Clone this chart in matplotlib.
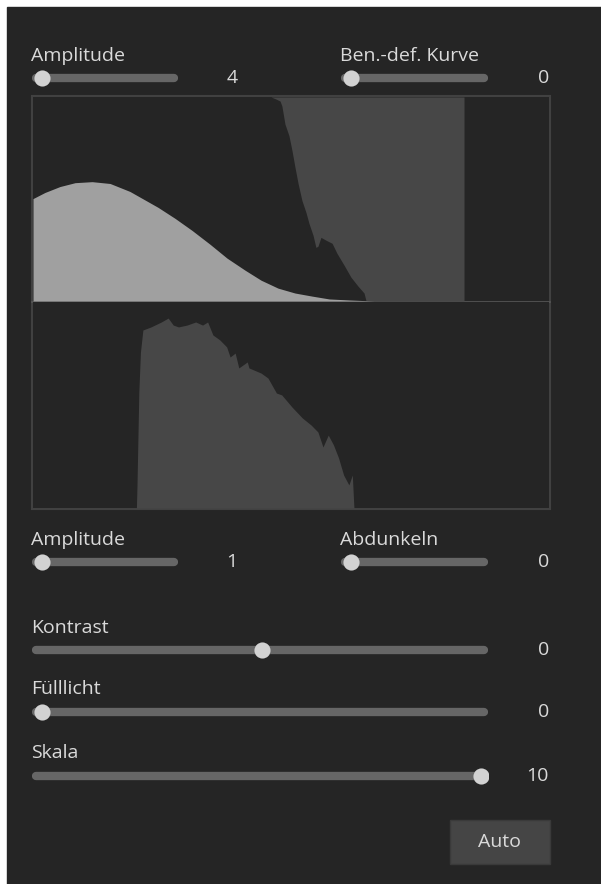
import matplotlib
matplotlib.use('Agg')
import matplotlib.pyplot as plt
from matplotlib.patches import Rectangle
import numpy as np

# Histogramm oben: helle Kurve (Tonwert 0..255, Höhe in %)
bell_levels = [0, 5.9, 13.3, 20.8, 29.2, 38.1, 47.9, 61.8, 70.2, 78.6, 87.5, 95.9,
               104.8, 112.7, 121.1, 129.5, 137.9, 146.4, 156.3, 168.6]
bell_values = [50.2, 53.2, 56.1, 58.0, 58.5, 57.6, 53.7, 45.9, 40.5, 34.6, 27.8, 21.0,
               15.1, 10.2, 6.3, 3.9, 2.4, 1.0, 0.5, 0.0]

# Histogramm oben: dunkle Fläche (untere Kante, gefüllt bis oben)
shadow_levels = [117.6, 120.1, 122.1, 123.0, 124.5, 126.5, 128.0, 129.5, 131.0, 132.9,
                 134.9, 136.4, 138.4, 139.8, 140.8, 142.3, 144.8, 147.8, 150.2, 153.7,
                 157.1, 160.6, 163.6, 164.6, 213.0]
shadow_edge = [100, 99, 98, 95.6, 86.8, 81.0, 73.7, 65.4, 57.6, 49.3,
               43.4, 38.0, 32.2, 26.3, 26.8, 31.2, 29.8, 28.3, 23.4, 17.6,
               11.7, 7.3, 3.9, 0.0, 0.0]

# Histogramm unten
low_levels = [51.1, 51.4, 52.3, 53.1, 54.3, 58.3, 63.4, 66.8, 69.3, 71.9, 76.1, 80.4,
              83.8, 86.3, 88.9, 92.3, 95.7, 97.4, 99.9, 101.7, 105.9, 106.7, 112.7,
              116.1, 120.3, 122.9, 128.0, 133.1, 137.4, 140.8, 143.3, 145.9, 148.5,
              151.0, 153.5, 156.1, 157.8, 158.6]
low_values = [0, 11.2, 56.3, 75.7, 86.4, 87.9, 90.3, 92.2, 88.8, 87.9, 88.8, 90.3,
              88.8, 90.3, 84.0, 81.6, 78.2, 73.3, 75.2, 68.0, 70.9, 68.0, 65.5,
              63.1, 55.8, 54.9, 49.0, 43.7, 40.3, 36.9, 29.6, 35.4, 30.6,
              24.3, 16.0, 11.2, 16.0, 0]

# Regler
slider_names = ['Amplitude', 'Ben.-def. Kurve', 'Amplitude', 'Abdunkeln',
                'Kontrast', 'Fülllicht', 'Skala']
slider_values = [4, 0, 1, 0, 0, 0, 10]
slider_min = [4, 0, 1, 0, -100, 0, 0]
slider_max = [20, 100, 10, 100, 100, 100, 10]

BG = '#252525'
TXT = '#dadada'
FS = 14
W, H = 601, 884

fig = plt.figure(figsize=(W / 100, H / 100), dpi=100)
fig.patch.set_facecolor('white')
plt.rcParams['font.family'] = ['Open Sans', 'DejaVu Sans']


def box(x0, y0, x1, y1):
    # Pixel (oben links) -> Figure-Koordinaten
    return [x0 / W, 1 - y1 / H, (x1 - x0) / W, (y1 - y0) / H]


# Hintergrund + Texte
bg = fig.add_axes([0, 0, 1, 1])
bg.set_xlim(0, W)
bg.set_ylim(H, 0)
bg.axis('off')
bg.add_patch(Rectangle((7, 7), W, H, color=BG, zorder=0))

# Histogramm-Rahmen
bg.add_patch(Rectangle((32, 96), 518, 413, fill=False, ec='#414141', lw=1.5, zorder=1))

ax_up = fig.add_axes(box(33, 97, 549, 301))
ax_lo = fig.add_axes(box(33, 302, 549, 508))
for ax in (ax_up, ax_lo):
    ax.set_facecolor(BG)
    ax.set_xlim(0, 255)
    ax.set_ylim(0, 100)
    ax.set_xticks([])
    ax.set_yticks([])
    for s in ax.spines.values():
        s.set_visible(False)

ax_up.fill_between(shadow_levels, shadow_edge, 100, color='#474747', lw=0)
ax_up.fill_between(bell_levels, 0, bell_values, color='#a0a0a0', lw=0)
ax_lo.fill_between(low_levels, 0, low_values, color='#474747', lw=0)
bg.plot([32, 550], [301.5, 301.5], color='#575757', lw=1.2, zorder=3)

# Regler: (x0, x1, Spur-y, Label-Baseline, Wert-x)
layout = [(32, 178, 78, 61, 232), (341, 488, 78, 61, 549),
          (32, 178, 562, 545, 232), (341, 488, 562, 545, 549),
          (32, 488, 650, 633, 549), (32, 488, 712, 694, 549),
          (32, 488, 776, 758, 549)]

for i, (x0, x1, ty, lb, vx) in enumerate(layout):
    bg.text(x0 - 1, lb, slider_names[i], color=TXT, fontsize=FS, va='baseline', ha='left')
    ha = 'center' if vx < 300 else 'right'
    bg.text(vx, ty, str(slider_values[i]), color=TXT, fontsize=FS,
            va='center', ha=ha)
    vmin, vmax = slider_min[i], slider_max[i]
    s = (vmax - vmin) / (x1 - x0 - 17)
    ax = fig.add_axes(box(x0, ty - 10, x1, ty + 10))
    ax.set_xlim(vmin - 10 * s, vmax + 7 * s)
    ax.set_ylim(-1, 1)
    ax.axis('off')
    ax.plot([vmin - 6 * s, vmax + 3 * s], [0, 0], color='#666666', lw=6,
            solid_capstyle='round')
    ax.scatter([slider_values[i]], [0], s=135, color='#d2d2d2', zorder=3, lw=0)

# Auto-Button
bg.add_patch(Rectangle((450, 820), 100, 44, fc='#454545', ec='#3a3a3a', lw=1, zorder=2))
bg.text(500, 842, 'Auto', color=TXT, fontsize=FS, ha='center', va='center', zorder=3)

plt.savefig('out.png', dpi=100, facecolor=fig.get_facecolor())
